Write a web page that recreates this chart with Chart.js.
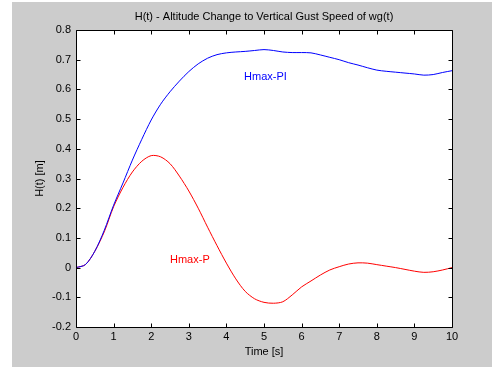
<!DOCTYPE html>
<html>
<head>
<meta charset="utf-8">
<script src="https://cdn.jsdelivr.net/npm/chart.js"></script>
<style>
  html, body { margin: 0; padding: 0; background: #fff; }
  #wrap { width: 492px; height: 367px; position: relative; }
</style>
</head>
<body>
<div id="wrap"><canvas id="gust-chart"></canvas></div>
<script>
// time axis [s]
const times = [0, 0.25, 0.5, 0.75, 1, 1.25, 1.5, 1.75, 2, 2.25, 2.5, 2.75, 3, 3.25, 3.5, 3.75,
  4, 4.25, 4.5, 4.75, 5, 5.25, 5.5, 5.75, 6, 6.25, 6.5, 6.75, 7, 7.25, 7.5, 7.75,
  8, 8.25, 8.5, 8.75, 9, 9.25, 9.5, 9.75, 10];
// H(t) [m]
const hmaxPI = [0, 0.01, 0.055, 0.125, 0.21, 0.285, 0.362, 0.432, 0.497, 0.55, 0.592, 0.628, 0.66, 0.686, 0.705, 0.717,
  0.723, 0.726, 0.728, 0.731, 0.734, 0.731, 0.726, 0.724, 0.724, 0.723, 0.716, 0.708, 0.7, 0.69, 0.682, 0.673,
  0.665, 0.661, 0.658, 0.655, 0.652, 0.648, 0.65, 0.657, 0.663];
const hmaxP = [0, 0.01, 0.055, 0.12, 0.205, 0.27, 0.322, 0.358, 0.377, 0.373, 0.35, 0.308, 0.258, 0.2, 0.136, 0.074,
  0.015, -0.038, -0.08, -0.105, -0.117, -0.12, -0.115, -0.092, -0.065, -0.045, -0.025, -0.008, 0.003, 0.012, 0.016, 0.015,
  0.01, 0.005, 0, -0.006, -0.012, -0.016, -0.014, -0.008, 0];
const xTicks = [0, 1, 2, 3, 4, 5, 6, 7, 8, 9, 10];
const yTicks = [-0.2, -0.1, 0, 0.1, 0.2, 0.3, 0.4, 0.5, 0.6, 0.7, 0.8];
// in-plot curve labels, in data coordinates
const seriesNotes = [
  { text: 'Hmax-PI', x: 4.47, y: 0.642, color: '#0000ff' },
  { text: 'Hmax-P', x: 2.5, y: 0.026, color: '#ff0000' }
];
const chartTitle = 'H(t) - Altitude Change to Vertical Gust Speed of wg(t)';

const FONT = "'Liberation Sans', Arial, sans-serif";

// matlab style figure: grey frame, white axes box, ticks pointing inward
const matlabFrame = {
  id: 'matlabFrame',
  beforeDraw(chart) {
    const { ctx, chartArea: a, width, height } = chart;
    ctx.save();
    ctx.fillStyle = '#ffffff';
    ctx.fillRect(0, 0, width, height);
    ctx.fillStyle = '#cccccc';
    ctx.fillRect(12, 2, width - 12, height - 2);
    ctx.fillStyle = '#ffffff';
    ctx.fillRect(a.left, a.top, a.right - a.left + 1, a.bottom - a.top + 1);
    ctx.restore();
  },
  afterDatasetsDraw(chart) {
    const { ctx, chartArea: a, scales } = chart;
    const L = a.left + 0.5, R = a.right + 0.5, T = a.top + 0.5, B = a.bottom + 0.5;
    ctx.save();
    ctx.strokeStyle = '#000000';
    ctx.lineWidth = 1;
    ctx.beginPath();
    ctx.rect(L, T, R - L, B - T);
    xTicks.forEach(v => {
      const px = Math.round(scales.x.getPixelForValue(v)) + 0.5;
      ctx.moveTo(px, B); ctx.lineTo(px, B - 4);
      ctx.moveTo(px, T); ctx.lineTo(px, T + 4);
    });
    yTicks.forEach(v => {
      const py = Math.round(scales.y.getPixelForValue(v)) + 0.5;
      ctx.moveTo(L, py); ctx.lineTo(L + 4, py);
      ctx.moveTo(R, py); ctx.lineTo(R - 4, py);
    });
    ctx.stroke();

    ctx.font = '11px ' + FONT;
    ctx.textBaseline = 'middle';
    ctx.textAlign = 'left';
    seriesNotes.forEach(n => {
      ctx.fillStyle = n.color;
      ctx.fillText(n.text, scales.x.getPixelForValue(n.x), scales.y.getPixelForValue(n.y));
    });
    ctx.fillStyle = '#000000';
    ctx.textAlign = 'center';
    ctx.fillText(chartTitle, (a.left + a.right) / 2, 17);
    ctx.restore();
  }
};

const axisFont = { size: 11, family: FONT };

new Chart(document.getElementById('gust-chart'), {
  type: 'line',
  data: {
    datasets: [
      {
        label: 'Hmax-PI',
        data: times.map((t, i) => ({ x: t, y: hmaxPI[i] })),
        borderColor: '#0000ff',
        borderWidth: 1,
        pointRadius: 0,
        tension: 0.3,
        fill: false
      },
      {
        label: 'Hmax-P',
        data: times.map((t, i) => ({ x: t, y: hmaxP[i] })),
        borderColor: '#ff0000',
        borderWidth: 1,
        pointRadius: 0,
        tension: 0.3,
        fill: false
      }
    ]
  },
  options: {
    responsive: true,
    maintainAspectRatio: false,
    animation: false,
    layout: { padding: { left: 12, top: 30, right: 40, bottom: 0 } },
    plugins: {
      legend: { display: false },
      tooltip: { enabled: false },
      title: { display: false }
    },
    scales: {
      x: {
        type: 'linear',
        min: 0,
        max: 10,
        afterBuildTicks: s => { s.ticks = xTicks.map(v => ({ value: v })); },
        afterFit: s => { s.height = 40; },
        grid: { display: false, drawTicks: false },
        border: { display: false },
        ticks: { color: '#000000', font: axisFont, padding: 3, maxRotation: 0, callback: v => String(v) },
        title: { display: true, text: 'Time [s]', color: '#000000', font: axisFont, padding: { top: 0, bottom: 8 } }
      },
      y: {
        type: 'linear',
        min: -0.2,
        max: 0.8,
        afterBuildTicks: s => { s.ticks = yTicks.map(v => ({ value: v })); },
        afterFit: s => { s.width = 64; },
        grid: { display: false, drawTicks: false },
        border: { display: false },
        ticks: { color: '#000000', font: axisFont, padding: 5, callback: v => String(v) },
        title: { display: true, text: 'H(t) [m]', color: '#000000', font: axisFont, padding: { top: 21, bottom: 0 } }
      }
    }
  },
  plugins: [matlabFrame]
});
</script>
</body>
</html>
